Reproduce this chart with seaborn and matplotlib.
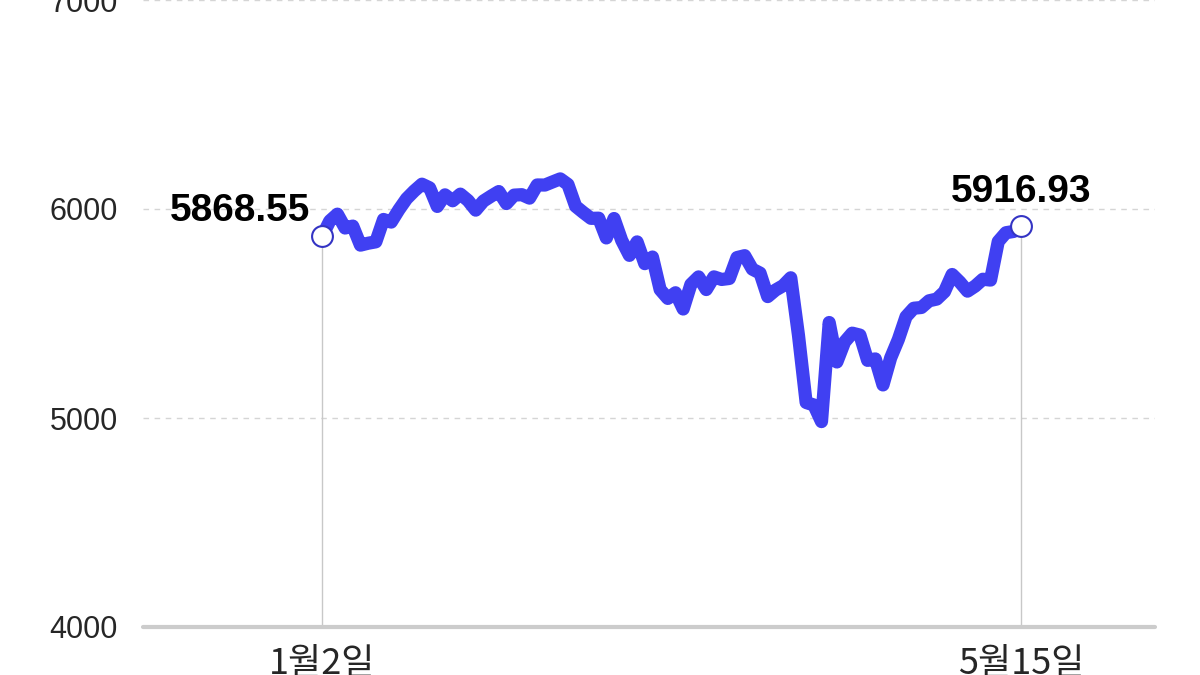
import matplotlib.pyplot as plt
import seaborn as sns
import pandas as pd
from matplotlib import font_manager

# S&P 500 closes, 2 Jan to 15 May (trading days)
values = [
    5868.55, 5942.47, 5975.38, 5909.03, 5918.25, 5827.04, 5836.22, 5842.91, 5949.91, 5937.34,
    5996.66, 6049.24, 6086.37, 6118.71, 6101.24, 6012.28, 6067.70, 6039.31, 6071.17, 6040.53,
    5994.57, 6037.88, 6061.48, 6083.57, 6025.99, 6066.44, 6068.50, 6051.97, 6115.07, 6114.63,
    6129.58, 6144.15, 6117.52, 6013.13, 5983.25, 5955.25, 5956.06, 5861.57, 5954.50,
    5849.72, 5778.15, 5842.63, 5738.52, 5770.20, 5614.56, 5572.07, 5599.30, 5521.52, 5638.94,
    5675.12, 5614.66, 5675.29, 5662.89, 5667.56, 5767.57, 5776.65, 5712.20, 5693.31, 5580.94,
    5611.85,
    5633.07, 5670.97, 5396.52, 5074.08, 5062.25, 4982.77, 5456.90, 5268.05, 5363.36, 5405.97,
    5396.63, 5275.70, 5282.70, 5158.20, 5287.76, 5375.86, 5484.77, 5525.21, 5528.75, 5560.83,
    5569.06,
    5604.14, 5686.67, 5650.38, 5606.91, 5631.28, 5663.94, 5659.91, 5844.19, 5886.55, 5892.58,
    5916.93,
]
day_idx = list(range(len(values)))
end_labels = ["1월2일", "5월15일"]
y_ticks = [4000, 5000, 6000, 7000]

df = pd.DataFrame({"day": day_idx, "close": values})

sns.set_theme(style="white")
installed = {f.name for f in font_manager.fontManager.ttflist}
narrow = "Liberation Sans Narrow" if "Liberation Sans Narrow" in installed else "Liberation Sans"
plt.rcParams["font.family"] = [narrow, "DejaVu Sans"]

fig = plt.figure(figsize=(12, 6.75), dpi=100)
ax = fig.add_axes([143 / 1200, 48 / 675, (1155 - 143) / 1200, 627 / 675])

line_color = "#4040f2"
last = len(values) - 1

# thin vertical guides at the two end points
for i in (0, last):
    ax.plot([i, i], [4000, values[i]], color="#c8c8c8", lw=1, zorder=1)

sns.lineplot(data=df, x="day", y="close", ax=ax, color=line_color, lw=9.5,
             solid_joinstyle="round", solid_capstyle="round", zorder=3)

ax.plot([0, last], [values[0], values[last]], ls="none", marker="o", ms=15,
        mfc="white", mec="#3434c4", mew=1.5, zorder=4)

ax.text(-1.5, values[0] + 35, f"{values[0]:.2f}", ha="right", va="bottom",
        fontsize=28, fontweight="bold", color="black")
ax.text(last, values[last] + 80, f"{values[last]:.2f}", ha="center", va="bottom",
        fontsize=28, fontweight="bold", color="black")

ax.set_xlim(-23.3, 108.4)
ax.set_ylim(4000, 7000)
for y in y_ticks[1:]:
    ax.axhline(y, color="#d5d5d5", lw=1, ls=(0, (4, 4)), zorder=0)
ax.axhline(4000, color="#cccccc", lw=3, zorder=2, clip_on=False)

ax.set_yticks(y_ticks)
ax.set_yticklabels([str(t) for t in y_ticks], fontsize=22)
ax.tick_params(axis="y", length=0, pad=18)
ax.set_xticks([0, last])
ax.set_xticklabels(end_labels, fontsize=26,
                   fontfamily=["Noto Sans CJK KR", "DejaVu Sans"])
ax.tick_params(axis="x", length=0, pad=14)
ax.set_xlabel("")
ax.set_ylabel("")
sns.despine(ax=ax, left=True, bottom=True)

fig.savefig("out.png", dpi=100)
